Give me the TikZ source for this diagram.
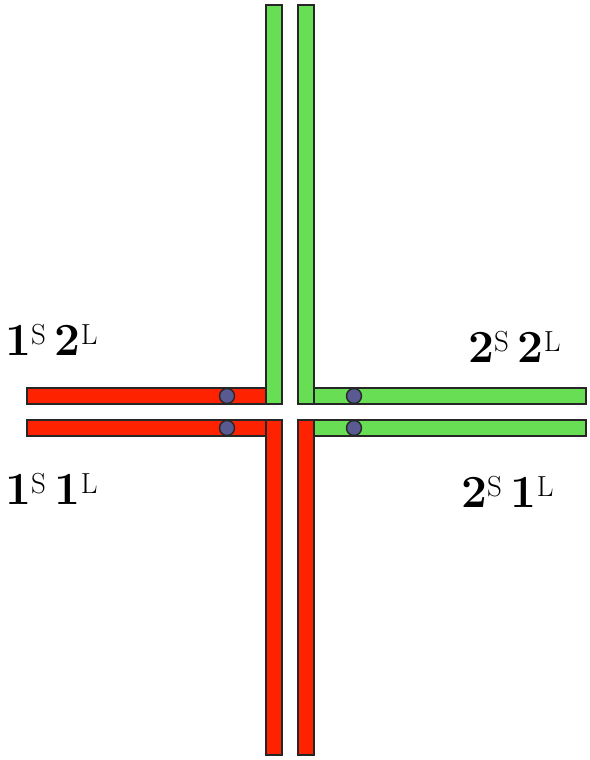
\documentclass[tikz,border=0pt]{standalone}
\usepackage{fontspec}
\definecolor{stripred}{RGB}{255,34,0}
\definecolor{stripgreen}{RGB}{104,222,84}
\definecolor{dotblue}{RGB}{88,90,145}
\newcommand{\upidx}[1]{\raisebox{11pt}{\fontsize{29}{31}\selectfont #1}}
\newcommand{\lbl}[2]{\textbf{#1}\upidx{S}\hspace{9pt}\textbf{#2}\upidx{L}}

\begin{document}
\begin{tikzpicture}[x=1pt, y=-1pt,
    redstrip/.style={draw=black!85, line width=1.4pt, fill=stripred},
    greenstrip/.style={draw=black!85, line width=1.4pt, fill=stripgreen},
    every node/.style={font=\fontsize{46}{50}\selectfont, inner sep=0pt}]
    \useasboundingbox (0,0) rectangle (589,760);

    % Green strips (upper)
    \draw[greenstrip] (266,5) rectangle (282,404);
    \draw[greenstrip] (298,5) rectangle (314,404);
    \draw[greenstrip] (314,388) rectangle (586,404);

    % Red strips (upper left)
    \draw[redstrip] (27,388) rectangle (266,404);

    % Red strips (lower)
    \draw[redstrip] (266,420) rectangle (282,755);
    \draw[redstrip] (298,420) rectangle (314,755);
    \draw[redstrip] (27,420) rectangle (266,436);

    % Green strip (lower right)
    \draw[greenstrip] (314,420) rectangle (586,436);

    % Contacts
    \foreach \x in {227,354} {
        \foreach \y in {396,428} {
            \draw[fill=dotblue, draw=black!85, line width=1.4pt] (\x,\y) circle (7.5pt);
        }
    }

    % Labels
    \node[anchor=base west] (ul) at (5,355) {\lbl{1}{2}};
    \node[anchor=base west] (ur) at (468,362) {\lbl{2}{2}};
    \node[anchor=base west] (ll) at (5,504) {\lbl{1}{1}};
    \node[anchor=base west] (lr) at (461,507) {\lbl{2}{1}};
\end{tikzpicture}
\end{document}
